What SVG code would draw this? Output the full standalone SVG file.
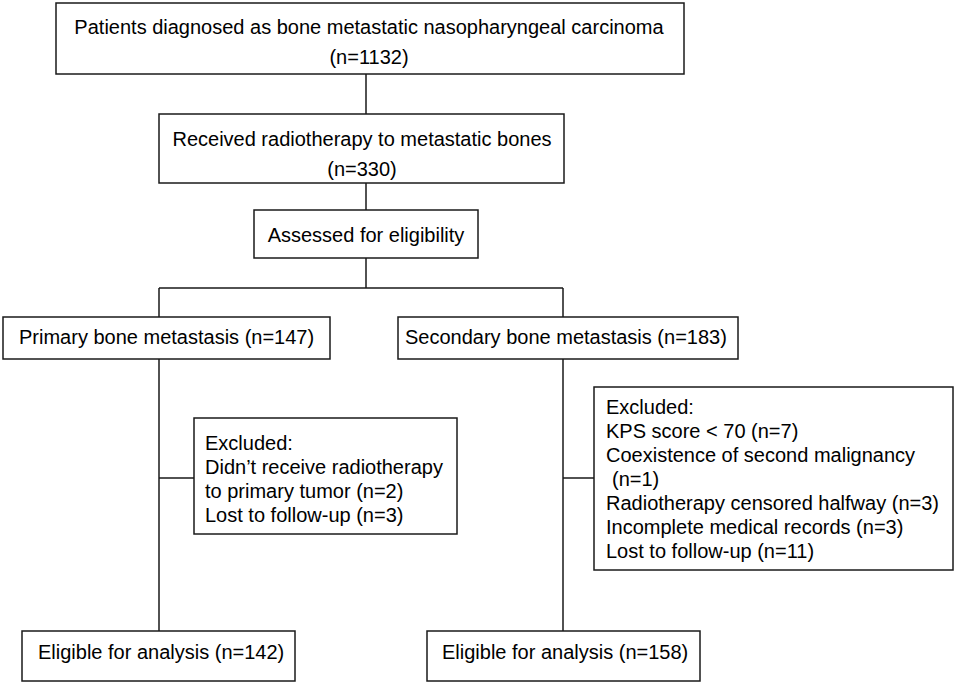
<svg xmlns="http://www.w3.org/2000/svg" width="957" height="685" viewBox="0 0 957 685">
<style>
.box{fill:#fff;stroke:#1a1a1a;stroke-width:1.5}
.ln{fill:none;stroke:#1a1a1a;stroke-width:1.5}
text{font-family:"Liberation Sans",Arial,sans-serif;font-size:20px;fill:#000}
.c{text-anchor:middle}
</style>
<rect width="957" height="685" fill="#fff"/>
<g id="connectors">
<path class="ln" d="M366,74V114M366,183V210M366,258V288M159,288H563M159,288V317M563,288V317M159,359V631M159,478H194M563,359V631M563,478H594"/>
</g>
<g id="n1"><rect class="box" x="56" y="3" width="628" height="71"/>
<text class="c" x="369" y="34">Patients diagnosed as bone metastatic nasopharyngeal carcinoma</text>
<text class="c" x="369" y="64">(n=1132)</text></g>
<g id="n2"><rect class="box" x="159" y="114" width="405" height="69"/>
<text class="c" x="362" y="146">Received radiotherapy to metastatic bones</text>
<text class="c" x="362" y="176">(n=330)</text></g>
<g id="n3"><rect class="box" x="254" y="210" width="224" height="48"/>
<text class="c" x="366" y="242">Assessed for eligibility</text></g>
<g id="n4"><rect class="box" x="3" y="317" width="327" height="42"/>
<text x="19" y="344">Primary bone metastasis (n=147)</text></g>
<g id="n5"><rect class="box" x="398" y="317" width="340" height="42"/>
<text x="405" y="344">Secondary bone metastasis (n=183)</text></g>
<g id="n6"><rect class="box" x="194" y="418" width="263" height="116"/>
<text x="205" y="450">Excluded:</text>
<text x="205" y="474">Didn’t receive radiotherapy</text>
<text x="205" y="498">to primary tumor (n=2)</text>
<text x="205" y="522">Lost to follow-up (n=3)</text></g>
<g id="n7"><rect class="box" x="594" y="387" width="359" height="183"/>
<text x="606" y="414">Excluded:</text>
<text x="606" y="438">KPS score &lt; 70 (n=7)</text>
<text x="606" y="462">Coexistence of second malignancy</text>
<text x="612" y="486">(n=1)</text>
<text x="606" y="510">Radiotherapy censored halfway (n=3)</text>
<text x="606" y="534">Incomplete medical records (n=3)</text>
<text x="606" y="558">Lost to follow-up (n=11)</text></g>
<g id="n8"><rect class="box" x="22" y="631" width="273" height="50"/>
<text x="38" y="659">Eligible for analysis (n=142)</text></g>
<g id="n9"><rect class="box" x="427" y="631" width="273" height="50"/>
<text x="442" y="659">Eligible for analysis (n=158)</text></g>
</svg>
